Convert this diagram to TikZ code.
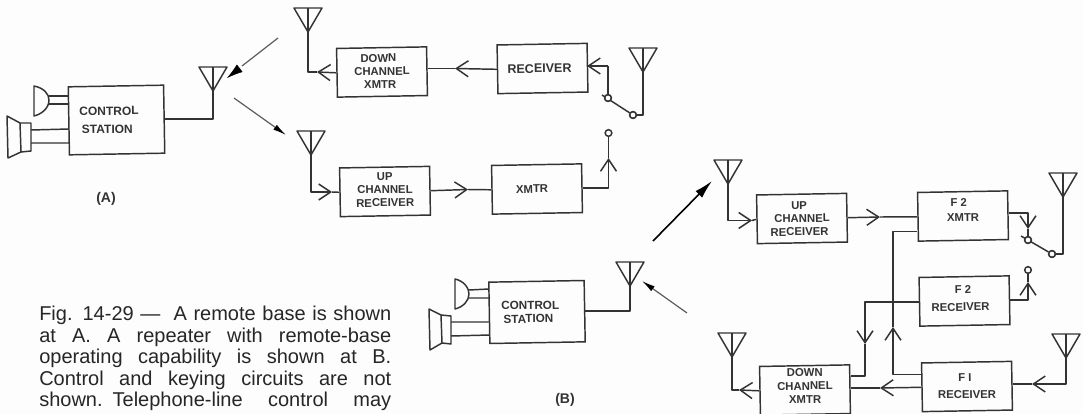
\documentclass[tikz,border=0pt]{standalone}
\usepackage{fontspec}
\setmainfont{Liberation Sans}
\usetikzlibrary{arrows.meta}
\definecolor{ink}{HTML}{333333}
\definecolor{paper}{HTML}{FDFDFD}
\tikzset{
  wire/.style={draw=ink,line width=1.1pt,line join=round},
  barb/.style={wire,-{Straight Barb[length=9pt,width=12pt,line width=1.1pt]}},
  radio/.style={draw=ink!80,line width=0.9pt,-{Latex[length=10pt,width=4.5pt,black]}},
  radiobig/.style={draw=black,line width=1.2pt,-{Latex[length=14pt,width=7pt,black]}},
  blob/.style={draw=black,line width=0.3pt,-{Latex[length=12pt,width=7pt,black]}},
  boxnode/.style={draw=ink,line width=1.1pt,rotate=1,minimum width=67.5pt,minimum height=36.5pt,inner sep=0pt,align=center,
     font=\fontsize{8.5}{10}\selectfont\bfseries,text=ink},
  ctrl/.style={boxnode,minimum width=71.5pt,font=\fontsize{9}{13.5}\selectfont\bfseries},
  contact/.style={circle,draw=ink,line width=1.1pt,fill=paper,minimum size=5pt,inner sep=0pt},
  tag/.style={font=\fontsize{10.5}{12}\selectfont\bfseries,text=ink},
  caption/.style={anchor=north west,inner sep=0pt,text width=264pt,text=black!85,font=\fontsize{15}{16.1}\selectfont}
}
\newcommand{\antenna}[3]{%
  \coordinate (#1) at (#2,#3);
  \draw[wire] (#1) ++(-14,-24) -- ++(28,0) -- (#1) -- cycle;
  \draw[wire] (#1) -- ++(0,-24);}
\newcommand{\jline}[1]{\hbox to 264pt{\spaceskip=0.26em plus 1fil\relax #1}}
\newcommand{\lft}[1]{\rule[-#1]{0pt}{0pt}}
\newcommand{\sft}[1]{\hspace*{#1}}
\begin{document}
\begin{tikzpicture}[x=0.75pt,y=-0.75pt]
\useasboundingbox (0,0) rectangle (1083,414);
\fill[paper] (0,0) rectangle (1083,414);

% ---------- A ----------
\node[ctrl,minimum height=51pt] (ca) at (116.5,120) {CONTROL\sft{11pt}\\STATION\sft{14pt}};
\node[boxnode] (da) at (382,72) {DOWN\sft{5pt}\\CHANNEL\sft{9pt}\\XMTR\sft{3pt}\lft{1pt}};
\node[boxnode,font=\fontsize{9.4}{12}\selectfont\bfseries] (ra) at (542.5,68.5) {RECEIVER\sft{4.5pt}};
\node[boxnode] (ua) at (385,191.5) {UP\\CHANNEL\\RECEIVER\lft{3pt}};
\node[boxnode] (xa) at (537,189) {XMTR\sft{7.5pt}};
\node[tag] (la) at (106,199) {(A)};

\antenna{a0}{213}{91}
\antenna{a1}{308}{32}
\antenna{a2}{311}{155}
\antenna{a3}{643}{72}

\draw[wire] (a0) |- (ca.east);
% down channel
\coordinate (t1) at (317,72);
\draw[barb] (da.west) -- (t1);
\draw[wire] (t1) -| (a1);
\coordinate (t2) at (455,68.5);
\draw[barb] (ra.west) -- (t2);
\draw[wire] (t2) -- (t2 -| da.east);
% switch A
\node[contact] (s1) at (608,98) {};
\node[contact] (s2) at (633,115) {};
\coordinate (s0) at (602,95);
\draw[wire] (s0) -- (s2);
\draw[wire] (a3) |- (s2);
\coordinate (c1) at (608,66);
\coordinate (t3) at (587,66);
\draw[wire] (s1) -- (c1);
\draw[barb] (c1) -- (t3);
\node[contact] at (s1) {};
\node[contact] at (s2) {};
% up channel
\coordinate (t4) at (332,192);
\draw[barb] (a2) |- (t4);
\draw[wire] (t4) -- (ua.west);
\coordinate (t5) at (468,189.5);
\draw[barb] (ua.east) -- (t5);
\draw[wire] (t5) -- (xa.west);
\node[contact] (s3) at (608.5,133) {};
\coordinate (t6) at (608.5,158);
\draw[wire] (t6) -- (s3);
\draw[barb] (xa.east) -| (t6);

% radio arrows A
\coordinate (ra1) at (278,38);
\coordinate (ra1b) at (242,66);
\coordinate (ra1c) at (240,68);
\coordinate (ra2) at (227,78);
\coordinate (ra3) at (234,98);
\coordinate (ra4) at (286,135);
\draw[draw=ink!80,line width=0.9pt] (ra1) -- (ra1b);
\draw[blob] (ra1c) -- (ra2);
\draw[radio] (ra3) -- (ra4);

% mic + speaker A
\draw[wire] (34,86) .. controls (44,88) and (49,94) .. (49,100) .. controls (49,108) and (42,114) .. (34,116) -- cycle;
\draw[wire] (49,96) -- (68,96) (49,104) -- (69,104);
\draw[wire] (7,116) -- (20,123) -- (21,152) -- (8,158) -- cycle;
\draw[wire] (20,123) -- (31,123) -- (31,151) -- (21,152);
\draw[wire] (31,130) -- (69,129) (31,143) -- (70,143);

% ---------- B ----------
\node[ctrl,minimum height=46pt,font=\fontsize{8.8}{10}\selectfont\bfseries] (cb) at (537,312) {CONTROL\sft{10pt}\\STATION\sft{13pt}\lft{0pt}};
\node[boxnode] (ub) at (802,218.5) {UP\sft{4pt}\\CHANNEL\sft{4pt}\\RECEIVER\sft{4pt}};
\node[boxnode] (fx) at (963,216) {F 2\sft{6pt}\\[1pt]XMTR\lft{9pt}};
\node[boxnode] (fr) at (964.5,301) {F 2\sft{2pt}\\[3pt]RECEIVER\sft{6pt}\lft{4pt}};
\node[boxnode] (fo) at (967,386.5) {F I\sft{3pt}\\[3pt]RECEIVER\lft{1pt}};
\node[boxnode] (db) at (805,390) {DOWN\\CHANNEL\\XMTR\lft{6pt}};
\node[tag] (lb) at (565,400) {(B)};

\antenna{b0}{630}{286}
\antenna{b1}{728}{184}
\antenna{b2}{1063}{197}
\antenna{b3}{1066}{358}
\antenna{b4}{732}{357}

\draw[wire] (b0) |- (cb.east);
\coordinate (u1) at (752,220.5);
\draw[barb] (b1) |- (u1);
\draw[wire] (u1) -- (ub.west);
\coordinate (u2) at (880,217);
\draw[barb] (ub.east) -- (u2);
\draw[wire] (u2) -- (fx.west);
% F2 XMTR to switch
\node[contact] (s4) at (1028,240) {};
\node[contact] (s5) at (1052,254) {};
\coordinate (s6) at (1021,236);
\coordinate (u3) at (1028,229);
\draw[wire] (s6) -- (s5);
\draw[wire] (u3) -- (s4);
\draw[barb] ([yshift=1.5pt]fx.east) -| (u3);
\draw[wire] (s5) -| (b2);
\node[contact] at (s4) {};
\node[contact] at (s5) {};
% F2 receiver out
\node[contact] (s7) at (1028,270) {};
\coordinate (u4) at (1028,282);
\draw[wire] (u4) -- (s7);
\draw[barb] (fr.east) -| (u4);
% cross lines
\coordinate (u5) at (893,327);
\draw[barb] ([yshift=9.5pt]fo.west) -| (u5);
\draw[wire] (u5) |- ([yshift=-11pt]fx.west);
\coordinate (u6) at (865,344);
\draw[barb] (fr.west) -| (u6);
\draw[wire] (u6) |- ([yshift=10pt]db.east);
% F1 -> down
\coordinate (u7) at (880,388);
\draw[barb] (fo.west) -- (u7);
\draw[wire] (u7) -- (u7 -| db.east);
\coordinate (u8) at (1032,384);
\draw[barb] (b3) |- (u8);
\draw[wire] (u8) -- (u8 -| fo.east);
\coordinate (u9) at (739,390);
\draw[barb] (db.west) -- (u9);
\draw[wire] (u9) -| (b4);

% radio arrows B
\coordinate (rb1) at (653,241);
\coordinate (rb2) at (712,181);
\coordinate (rb3) at (687,313);
\coordinate (rb4) at (642,281);
\draw[radiobig] (rb1) -- (rb2);
\draw[radio] (rb3) -- (rb4);

% mic + speaker B
\draw[wire] (455,279) .. controls (464,281) and (469,288) .. (469,294) .. controls (469,301) and (463,307) .. (455,309) -- cycle;
\draw[wire] (469,290) -- (489,289) (469,298) -- (490,298);
\draw[wire] (429,309) -- (441,315) -- (442,343) -- (430,350) -- cycle;
\draw[wire] (441,315) -- (451,316) -- (451,344) -- (442,343);
\draw[wire] (451,322) -- (489,322) (451,336) -- (490,335);

% caption
\node[caption] (cap) at (39,306) {%
\jline{Fig. 14-29 --- \ A remote base is shown}\par
\jline{at A. A repeater with remote-base}\par
\jline{operating capability is shown at B.}\par
\jline{Control and keying circuits are not}\par
\jline{shown. Telephone-line control may}};
\end{tikzpicture}
\end{document}
